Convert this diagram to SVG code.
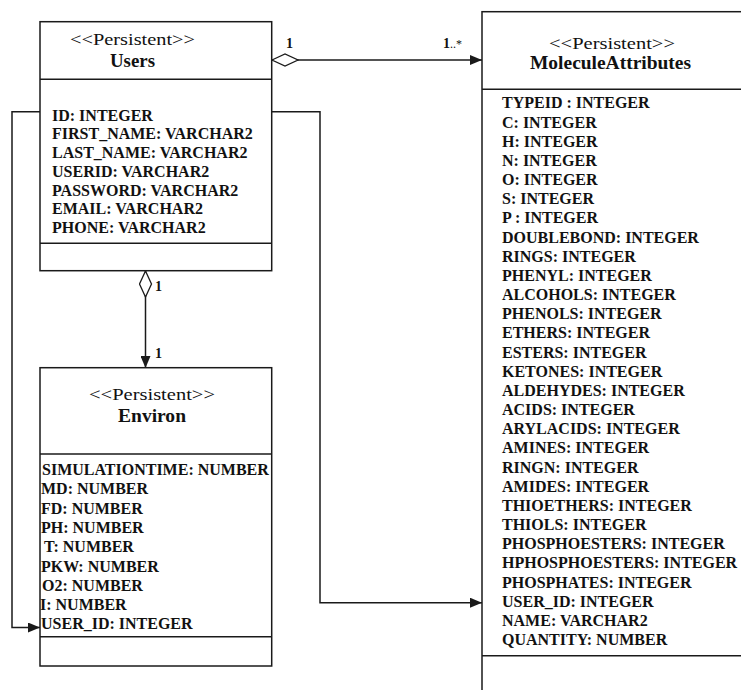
<svg xmlns="http://www.w3.org/2000/svg" width="741" height="690" viewBox="0 0 741 690">
<style>
  .box { fill: #ffffff; stroke: #1a1a1a; stroke-width: 1.5; }
  .div { stroke: #1a1a1a; stroke-width: 1.5; fill: none; }
  .st { font-family: "Liberation Serif", "Times New Roman", serif; font-size: 17px; fill: #111; }
  .nm { font-family: "Liberation Serif", "Times New Roman", serif; font-size: 18px; font-weight: bold; fill: #111; }
  .at { font-family: "Liberation Serif", "Times New Roman", serif; font-size: 16px; font-weight: bold; fill: #111; }
  .lbl { font-family: "Liberation Serif", "Times New Roman", serif; font-size: 14px; font-weight: bold; fill: #111; }
  .conn { stroke: #1a1a1a; stroke-width: 1.5; fill: none; }
</style>
<defs>
  <marker id="arrow" viewBox="0 0 12 10" refX="12" refY="5" markerWidth="12" markerHeight="10" markerUnits="userSpaceOnUse" orient="auto">
    <path d="M0,0 L12,5 L0,10 z" fill="#1a1a1a"/>
  </marker>
  <marker id="diamond" viewBox="-1 -1 28 14" refX="0" refY="6" markerWidth="28" markerHeight="14" markerUnits="userSpaceOnUse" orient="auto">
    <path d="M0,6 L13,0 L26,6 L13,12 z" fill="#ffffff" stroke="#1a1a1a" stroke-width="1.3"/>
  </marker>
</defs>
<rect width="741" height="690" fill="#ffffff"/>

<g id="connectors">
  <path class="conn" d="M272,60 H482" marker-start="url(#diamond)" marker-end="url(#arrow)"/>
  <path class="conn" d="M145.5,271 V368" marker-start="url(#diamond)" marker-end="url(#arrow)"/>
  <path class="conn" d="M40,111.7 H12 V627.5 H40" marker-end="url(#arrow)"/>
  <path class="conn" d="M272,111.7 H320 V602.7 H482" marker-end="url(#arrow)"/>
  <text class="lbl" x="286" y="48">1</text>
  <text class="lbl" x="443" y="48">1<tspan font-weight="normal" font-size="12">..*</tspan></text>
  <text class="lbl" x="155" y="291">1</text>
  <text class="lbl" x="155" y="358">1</text>
</g>

<g id="users">
  <rect class="box" x="40" y="21.7" width="231.7" height="249"/>
  <line class="div" x1="40" y1="79.3" x2="271.7" y2="79.3"/>
  <line class="div" x1="40" y1="243.3" x2="271.7" y2="243.3"/>
  <text class="st" x="70" y="45" textLength="125" lengthAdjust="spacingAndGlyphs">&lt;&lt;Persistent&gt;&gt;</text>
  <text class="nm" x="110" y="67" textLength="45" lengthAdjust="spacingAndGlyphs">Users</text>
  <text class="at" x="52" y="120.5">ID: INTEGER</text>
  <text class="at" x="52" y="139.3">FIRST_NAME: VARCHAR2</text>
  <text class="at" x="52" y="158">LAST_NAME: VARCHAR2</text>
  <text class="at" x="52" y="176.8">USERID: VARCHAR2</text>
  <text class="at" x="52" y="195.5">PASSWORD: VARCHAR2</text>
  <text class="at" x="52" y="214.3">EMAIL: VARCHAR2</text>
  <text class="at" x="52" y="233">PHONE: VARCHAR2</text>
</g>

<g id="environ">
  <rect class="box" x="40" y="367.7" width="231.7" height="298.3"/>
  <line class="div" x1="40" y1="454" x2="271.7" y2="454"/>
  <line class="div" x1="40" y1="636.7" x2="271.7" y2="636.7"/>
  <text class="st" x="89" y="400" textLength="126" lengthAdjust="spacingAndGlyphs">&lt;&lt;Persistent&gt;&gt;</text>
  <text class="nm" x="118" y="422.3" textLength="68" lengthAdjust="spacingAndGlyphs">Environ</text>
  <text class="at" x="42" y="475">SIMULATIONTIME: NUMBER</text>
  <text class="at" x="41" y="494.3">MD: NUMBER</text>
  <text class="at" x="41" y="513.6">FD: NUMBER</text>
  <text class="at" x="41" y="532.9">PH: NUMBER</text>
  <text class="at" x="44" y="552.2">T: NUMBER</text>
  <text class="at" x="41" y="571.5">PKW: NUMBER</text>
  <text class="at" x="42" y="590.8">O2: NUMBER</text>
  <text class="at" x="40" y="610.1">I: NUMBER</text>
  <text class="at" x="41" y="629.4">USER_ID: INTEGER</text>
</g>

<g id="moleculeattributes">
  <rect class="box" x="482" y="11.7" width="270" height="700"/>
  <line class="div" x1="482" y1="89.3" x2="752" y2="89.3"/>
  <line class="div" x1="482" y1="655.7" x2="752" y2="655.7"/>
  <text class="st" x="549" y="48.5" textLength="126" lengthAdjust="spacingAndGlyphs">&lt;&lt;Persistent&gt;&gt;</text>
  <text class="nm" x="530" y="68.5" textLength="161" lengthAdjust="spacingAndGlyphs">MoleculeAttributes</text>
  <text class="at" x="502" y="108.3">TYPEID : INTEGER</text>
  <text class="at" x="502" y="127.5">C: INTEGER</text>
  <text class="at" x="502" y="146.6">H: INTEGER</text>
  <text class="at" x="502" y="165.8">N: INTEGER</text>
  <text class="at" x="502" y="185">O: INTEGER</text>
  <text class="at" x="502" y="204.1">S: INTEGER</text>
  <text class="at" x="502" y="223.3">P : INTEGER</text>
  <text class="at" x="502" y="242.5">DOUBLEBOND: INTEGER</text>
  <text class="at" x="502" y="261.7">RINGS: INTEGER</text>
  <text class="at" x="502" y="280.8">PHENYL: INTEGER</text>
  <text class="at" x="502" y="300">ALCOHOLS: INTEGER</text>
  <text class="at" x="502" y="319.2">PHENOLS: INTEGER</text>
  <text class="at" x="502" y="338.3">ETHERS: INTEGER</text>
  <text class="at" x="502" y="357.5">ESTERS: INTEGER</text>
  <text class="at" x="502" y="376.7">KETONES: INTEGER</text>
  <text class="at" x="502" y="395.8">ALDEHYDES: INTEGER</text>
  <text class="at" x="502" y="415">ACIDS: INTEGER</text>
  <text class="at" x="502" y="434.2">ARYLACIDS: INTEGER</text>
  <text class="at" x="502" y="453.4">AMINES: INTEGER</text>
  <text class="at" x="502" y="472.5">RINGN: INTEGER</text>
  <text class="at" x="502" y="491.7">AMIDES: INTEGER</text>
  <text class="at" x="502" y="510.9">THIOETHERS: INTEGER</text>
  <text class="at" x="502" y="530">THIOLS: INTEGER</text>
  <text class="at" x="502" y="549.2">PHOSPHOESTERS: INTEGER</text>
  <text class="at" x="502" y="568.4">HPHOSPHOESTERS: INTEGER</text>
  <text class="at" x="502" y="587.5">PHOSPHATES: INTEGER</text>
  <text class="at" x="502" y="606.7">USER_ID: INTEGER</text>
  <text class="at" x="502" y="625.9">NAME: VARCHAR2</text>
  <text class="at" x="502" y="645">QUANTITY: NUMBER</text>
</g>
</svg>
